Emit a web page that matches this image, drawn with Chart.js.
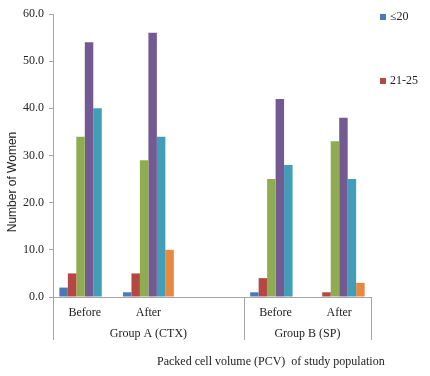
<!DOCTYPE html>
<html>
<head>
<meta charset="utf-8">
<script src="https://cdn.jsdelivr.net/npm/chart.js@4/dist/chart.umd.min.js"></script>
<style>
  html, body { margin: 0; padding: 0; background: #fff; }
  #wrap { width: 430px; height: 376px; position: relative; }
</style>
</head>
<body>
<div id="wrap"><canvas id="pcvChart"></canvas></div>
<script>
'use strict';

// ─── data ────────────────────────────────────────────
const categories = ['Before', 'After', '', 'Before', 'After'];
const groups = [
    { label: 'Group A (CTX)', from: 0, to: 2 },
    { label: 'Group B (SP)', from: 3, to: 4 }
];
const seriesLabels = ['≤20', '21-25', '26-30', '31-35', '36-40', '>40'];
const pcvLe20  = [2, 1, null, 1, 0];
const pcv21_25 = [5, 5, null, 4, 1];
const pcv26_30 = [34, 29, null, 25, 33];
const pcv31_35 = [54, 56, null, 42, 38];
const pcv36_40 = [40, 34, null, 28, 25];
const pcvGt40  = [0, 10, null, 0, 3];
const yTicks = [0, 10, 20, 30, 40, 50, 60];
const legendShown = ['≤20', '21-25'];
const xTitle = 'Packed cell volume (PCV)  of study population';
const yTitle = 'Number of Women';

const colors = ['#4B7BB6', '#B64843', '#8FAC50', '#735A93', '#419DB8', '#E9893F'];
const AXIS = '#a6a6a6';
const SERIF = '"Liberation Serif", "Times New Roman", serif';
const SANS = '"Liberation Sans", Arial, sans-serif';

const allSeries = [pcvLe20, pcv21_25, pcv26_30, pcv31_35, pcv36_40, pcvGt40];

// ─── extra drawing: group brackets, titles, legend ───
const decorations = {
    id: 'decorations',
    afterDraw(chart) {
        const ctx = chart.ctx;
        const area = chart.chartArea;
        const x = chart.scales.x;
        const half = (x.getPixelForValue(1) - x.getPixelForValue(0)) / 2;
        const y0 = area.bottom;

        ctx.save();
        ctx.strokeStyle = AXIS;
        ctx.lineWidth = 1;
        ctx.fillStyle = '#222';
        ctx.font = '12px ' + SERIF;
        ctx.textAlign = 'center';
        ctx.textBaseline = 'middle';

        groups.forEach(g => {
            const left = x.getPixelForValue(g.from) - half;
            const right = x.getPixelForValue(g.to) + half;
            [left, right].forEach(px => {
                const p = Math.round(px) + 0.5;
                ctx.beginPath();
                ctx.moveTo(p, y0);
                ctx.lineTo(p, y0 + 43);
                ctx.stroke();
            });
            ctx.fillText(g.label, (left + right) / 2, y0 + 37);
        });

        // x title
        ctx.textAlign = 'left';
        ctx.fillText(xTitle, 157, 362);

        // y title
        ctx.font = '12px ' + SANS;
        ctx.translate(13, 182);
        ctx.rotate(-Math.PI / 2);
        ctx.textAlign = 'center';
        ctx.fillText(yTitle, 0, 0);
        ctx.setTransform(1, 0, 0, 1, 0, 0);

        // legend
        ctx.font = '12px ' + SERIF;
        ctx.textAlign = 'left';
        legendShown.forEach((lbl, i) => {
            const idx = seriesLabels.indexOf(lbl);
            const ly = 17 + i * 64;
            ctx.fillStyle = colors[idx];
            ctx.fillRect(380, ly - 3, 6, 6);
            ctx.fillStyle = '#222';
            ctx.fillText(lbl, 390, ly);
        });
        ctx.restore();
    }
};

new Chart(document.getElementById('pcvChart'), {
    type: 'bar',
    data: {
        labels: categories,
        datasets: allSeries.map((d, i) => ({
            label: seriesLabels[i],
            data: d,
            backgroundColor: colors[i],
            borderWidth: 0,
            categoryPercentage: 0.8,
            barPercentage: 1.0
        }))
    },
    options: {
        responsive: true,
        maintainAspectRatio: false,
        animation: false,
        layout: { padding: { top: 14, right: 59, left: 0, bottom: 0 } },
        plugins: {
            legend: { display: false },
            tooltip: { enabled: false }
        },
        scales: {
            x: {
                grid: { display: false, drawTicks: false },
                border: { display: true, color: AXIS },
                ticks: {
                    padding: 9,
                    color: '#222',
                    font: { family: SERIF, size: 12 },
                    maxRotation: 0
                },
                afterFit: s => { s.height = 79; }
            },
            y: {
                min: 0,
                max: 60,
                afterBuildTicks: s => { s.ticks = yTicks.map(v => ({ value: v })); },
                grid: { drawOnChartArea: false, drawTicks: true, tickLength: 4, color: AXIS },
                border: { display: true, color: AXIS },
                ticks: {
                    padding: 5,
                    color: '#222',
                    font: { family: SERIF, size: 12 },
                    callback: v => v.toFixed(1)
                },
                afterFit: s => { s.width = 53; }
            }
        }
    },
    plugins: [decorations]
});
</script>
</body>
</html>
